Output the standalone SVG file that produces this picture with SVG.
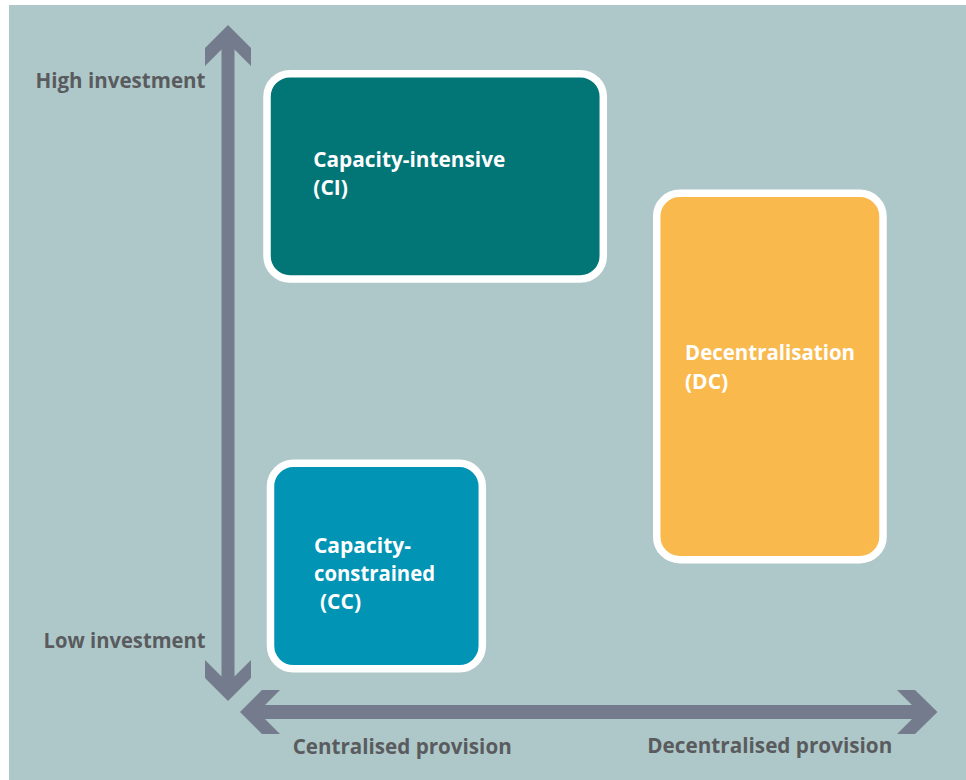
<svg xmlns="http://www.w3.org/2000/svg" width="966" height="780" viewBox="0 0 966 780">
  <style>
    .axis { fill: #737B8C; }
    .box { stroke: #FFFFFF; stroke-width: 7.5; }
    .lbl { font-family: "Open Sans", "Liberation Sans", sans-serif; font-weight: 700; font-size: 21px; fill: #5A5B5E; }
    .bt { font-family: "Open Sans", "Liberation Sans", sans-serif; font-weight: 700; font-size: 21px; fill: #FFFFFF; }
  </style>
  <rect x="0" y="0" width="966" height="780" fill="#FFFFFF"/>
  <rect x="9" y="5" width="957" height="775" fill="#AEC8C9"/>

  <g id="connectors">
    <polygon class="axis" points="228,25 251,48 251,66 234.5,49.5 234.5,676.5 251,660 251,678 228,701 205,678 205,660 221.5,676.5 221.5,49.5 205,66 205,48"/>
    <polygon class="axis" points="240,712 262,690 280,690 265,705 912,705 897,690 915,690 937.5,712 915,734 897,734 912,719 265,719 280,734 262,734"/>
  </g>

  <g id="axis-labels">
    <text class="lbl" x="205.5" y="88.3" text-anchor="end" textLength="170" lengthAdjust="spacingAndGlyphs">High investment</text>
    <text class="lbl" x="205.5" y="647.7" text-anchor="end" textLength="162" lengthAdjust="spacingAndGlyphs">Low investment</text>
    <text class="lbl" x="292.7" y="754" textLength="219" lengthAdjust="spacingAndGlyphs">Centralised provision</text>
    <text class="lbl" x="647.3" y="753" textLength="245" lengthAdjust="spacingAndGlyphs">Decentralised provision</text>
  </g>

  <g id="node-ci">
    <rect class="box" x="267" y="73.7" width="336.3" height="205.3" rx="23" ry="23" fill="#027577"/>
    <text class="bt" x="313.3" y="166.7" textLength="192" lengthAdjust="spacingAndGlyphs">Capacity-intensive</text>
    <text class="bt" x="313.3" y="195">(CI)</text>
  </g>

  <g id="node-cc">
    <rect class="box" x="270.5" y="463.3" width="211.8" height="205.5" rx="23" ry="23" fill="#0194B4"/>
    <text class="bt" x="314" y="552.7" textLength="97" lengthAdjust="spacingAndGlyphs">Capacity-</text>
    <text class="bt" x="314" y="580.7" textLength="121" lengthAdjust="spacingAndGlyphs">constrained</text>
    <text class="bt" x="320" y="609.3">(CC)</text>
  </g>

  <g id="node-dc">
    <rect class="box" x="656.7" y="193.3" width="226.3" height="366.4" rx="23" ry="23" fill="#FAB94C"/>
    <text class="bt" x="685" y="360" textLength="170" lengthAdjust="spacingAndGlyphs">Decentralisation</text>
    <text class="bt" x="685" y="389">(DC)</text>
  </g>
</svg>
